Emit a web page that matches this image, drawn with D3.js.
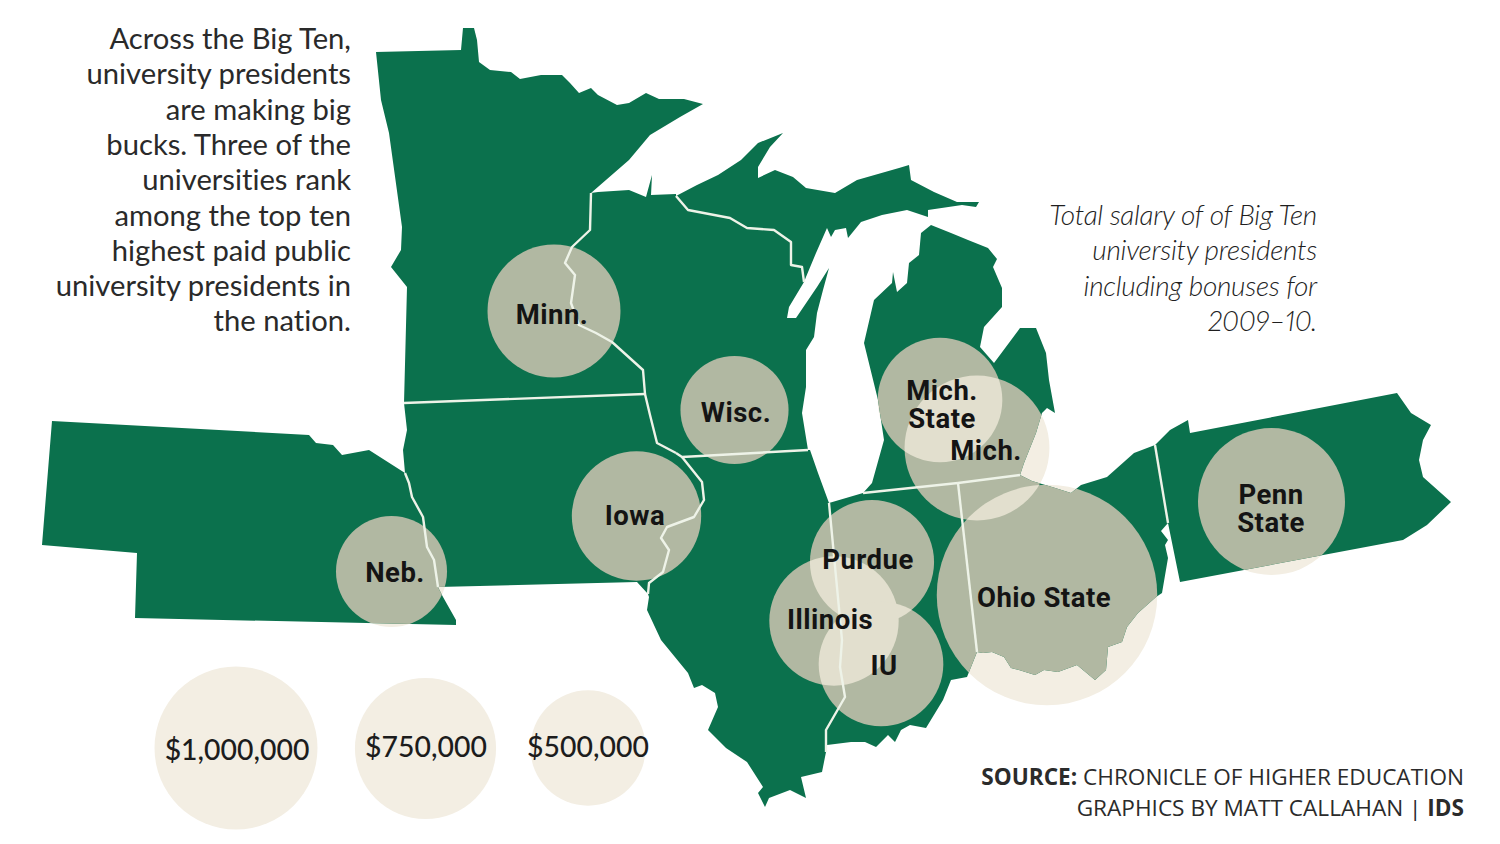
<!DOCTYPE html>
<html><head><meta charset="utf-8">
<script src="https://cdn.jsdelivr.net/npm/d3@7/dist/d3.min.js"></script>
<style>html,body{margin:0;padding:0;background:#fff}svg{display:block}text{font-variant-ligatures:none}</style>
</head><body><svg id="c" width="1500" height="844"></svg>
<script>
// ---------- data: state boundaries (map units) ----------
const mnWi=[[591,193],[590,230],[572,247],[565,263],[575,275],[571,303],[579,325],[596,333],[612,342],[643,370],[645,394]];
const mnIa=[[645,394],[404,403]];
const wiIa=[[645,394],[650,415],[657,443],[676,453]];
const wiIl=[[676,453],[682,457],[808,450]];
const wiUp=[[676,196],[688,210],[730,218],[747,228],[774,230],[791,242],[791,265],[802,267],[804,282]];
const iaIl=[[682,457],[690,467],[702,482],[704,500],[694,517],[667,527],[661,538],[669,550],[663,572],[649,583],[648,594]];
const neIa=[[405,473],[409,483],[412,497],[423,517],[427,547],[434,560],[438,587]];
const ilIn=[[829,503],[842,640],[840,667],[845,697],[826,730],[826,752]];
const inMi=[[863,493],[958,483]];
const miOh=[[958,483],[1020,475]];
const inOh=[[958,483],[977,652]];
const ohPa=[[1155,445],[1168,523]];

const minnesotaCoast=[[404,403],[407,287],[391,267],[401,250],[402,227],[389,133],[381,100],[376,52],[461,50],[463,28],[474,28],[477,40],[479,62],[490,70],[511,72],[520,79],[541,75],[562,75],[570,83],[579,93],[591,88],[598,95],[617,105],[629,103],[646,93],[659,99],[684,99],[703,104],[680,117],[650,135],[629,160]];
const wisconsinNorth=[[598,192],[629,190],[646,197],[652,175],[651,195],[676,194]];
const wisconsinEast=[[789,307],[787,318],[796,318],[817,287],[829,268],[823,290],[817,313],[814,337],[806,350],[806,387],[802,413],[808,450]];
const upperPeninsulaCoast=[[697,185],[718,175],[741,160],[758,143],[783,133],[770,147],[758,167],[758,178],[775,170],[793,177],[806,188],[835,193],[857,180],[899,168],[909,165],[911,180],[934,192],[957,202],[979,202],[976,207],[962,205],[928,210],[928,217],[907,210],[882,215],[861,222],[848,238],[846,228],[835,230],[831,237],[827,228],[816,253],[806,277]];
const lowerMichiganCoast=[[1020,475],[1024,463],[1036,433],[1042,413],[1047,408],[1055,413],[1049,380],[1046,353],[1036,328],[1020,328],[994,363],[980,347],[984,327],[1002,307],[1002,288],[993,267],[997,259],[988,248],[968,240],[951,233],[931,225],[921,233],[919,255],[909,263],[907,283],[897,292],[893,272],[892,283],[874,300],[864,343],[878,400],[884,440],[872,483]];
const nebraskaRest=[[443,597],[456,620],[456,625],[135,618],[137,553],[42,545],[52,421],[309,435],[316,443],[333,445],[342,455],[369,450]];
const iowaWest=[[637,582],[438,587]];
const iowaNorthwest=[[403,450],[407,430],[404,403]];
const illinoisSouth=[[822,772],[801,777],[806,798],[790,790],[769,798],[765,807],[758,793],[763,787],[747,762],[726,748],[708,730],[718,707],[715,693],[702,685],[694,688],[688,673],[661,640],[647,610],[649,597]];
const illinoisLake=[[810,450],[818,473],[829,503]];
const indianaSouth=[[967,677],[951,680],[943,700],[926,728],[910,725],[901,730],[895,742],[888,735],[876,747],[865,742],[851,742],[827,745]];
const ohioLake=[[1032,481],[1052,487],[1071,493],[1081,485],[1107,477],[1134,453]];
const ohioRiver=[[1168,523],[1161,531],[1168,540],[1165,545],[1168,558],[1162,593],[1156,597],[1138,613],[1127,627],[1122,642],[1108,647],[1106,670],[1095,680],[1077,665],[1058,672],[1044,670],[1035,675],[1019,670],[1011,668],[1004,657],[992,652],[983,653]];
const pennsylvaniaRest=[[1170,430],[1188,420],[1190,433],[1397,393],[1411,413],[1431,425],[1423,440],[1419,460],[1423,477],[1451,502],[1427,525],[1403,540],[1180,582]];

const r=a=>a.slice().reverse();
const stateNames=["Minnesota","Wisconsin","Upper Michigan","Lower Michigan","Iowa","Nebraska","Illinois","Indiana","Ohio","Pennsylvania"];
const stateRings=[
  [...mnWi,...mnIa,...minnesotaCoast],
  [...wisconsinNorth,...wiUp,...wisconsinEast,...r(wiIl),...r(wiIa),...r(mnWi)],
  [...wiUp.slice(0,1),...upperPeninsulaCoast,...r(wiUp)],
  [...r(miOh),...r(inMi),...r(lowerMichiganCoast)],
  [...r(mnIa),...wiIa,...iaIl,...iowaWest,...r(neIa),...iowaNorthwest.slice(0,2)],
  [...neIa,...nebraskaRest],
  [...wiIl.slice(1),...illinoisLake,...ilIn,...illinoisSouth,...r(iaIl)],
  [...ilIn,...r(indianaSouth),...r(inOh),...r(inMi)],
  [...miOh,...ohioLake,...ohPa,...ohioRiver,...r(inOh)],
  [...r(ohPa),...pennsylvaniaRest]
];
const borderLines=[mnWi,mnIa,wiIa,wiIl,wiUp,iaIl,neIa,ilIn,inMi,miOh,inOh,ohPa];

// ---------- data: salaries ----------
const universities=["Minn.","Wisc.","Iowa","Neb.","Mich. State","Mich.","Purdue","Illinois","IU","Ohio State","Penn State"];
const salaries=[666000,440000,630000,464000,585000,790000,580000,630000,585000,1830000,813000];
const campusX=[554,734.5,636.5,391.5,940,977,872,834,881,1047,1271.5];
const campusY=[311,410,516,571.5,400,448,562,621,664,595,501.5];
const labelLines=[["Minn."],["Wisc."],["Iowa"],["Neb."],["Mich.","State"],["Mich."],["Purdue"],["Illinois"],["IU"],["Ohio State"],["Penn","State"]];
const labelX=[552,736,635,395,942,986,868,830,884,1044,1271];
const labelY=[324,422,525,582,400,460,569,629,675,607,504];

const legendValues=[1000000,750000,500000];
const legendLabels=["$1,000,000","$750,000","$500,000"];
const legendX=[236,425.5,588];
const legendY=[748,748.5,748];
const legendTextX=[237,426,588];
const legendTextY=[760,757,757];

const introLines=["Across the Big Ten,","university presidents","are making big","bucks. Three of the","universities rank","among the top ten","highest paid public","university presidents in","the nation."];
const captionLines=["Total salary of of Big Ten","university presidents","including bonuses for","2009–10."];

// ---------- drawing ----------
const svg=d3.select("#c");
const geoPath=d3.geoPath(d3.geoIdentity());
const radius=d3.scaleSqrt().domain([0,1000000]).range([0,81.5]);
const lineGen=d3.line();
const ringPath=d=>geoPath({type:"Polygon",coordinates:[d.concat([d[0]])]});
const land="#0b714d", bubbleOnPaper="#f3eee3", bubbleOnLand="#b1b8a2", bubbleTwice="#e2dfce";

const defs=svg.append("defs");
defs.append("clipPath").attr("id","land").selectAll("path").data(stateRings).join("path").attr("d",ringPath);
salaries.forEach((v,i)=>{
  defs.append("clipPath").attr("id","bubble"+i).append("circle")
    .attr("cx",campusX[i]).attr("cy",campusY[i]).attr("r",radius(v));
});

// bubbles as they look on the white paper
svg.append("g").selectAll("circle").data(salaries).join("circle")
  .attr("cx",(d,i)=>campusX[i]).attr("cy",(d,i)=>campusY[i]).attr("r",d=>radius(d)).attr("fill",bubbleOnPaper);

// land
svg.append("g").selectAll("path").data(stateRings).join("path")
  .attr("d",ringPath).attr("fill",land)
  .append("title").text((d,i)=>stateNames[i]);

// bubbles as they look on the land, with their overlaps lighter
const onLand=svg.append("g").attr("clip-path","url(#land)");
onLand.selectAll("circle").data(salaries).join("circle")
  .attr("cx",(d,i)=>campusX[i]).attr("cy",(d,i)=>campusY[i]).attr("r",d=>radius(d)).attr("fill",bubbleOnLand);
salaries.forEach((v,i)=>{
  salaries.forEach((w,j)=>{
    if(j<=i) return;
    const dist=Math.hypot(campusX[i]-campusX[j],campusY[i]-campusY[j]);
    if(dist>=radius(v)+radius(w)) return;
    onLand.append("g").attr("clip-path","url(#bubble"+i+")").append("circle")
      .attr("cx",campusX[j]).attr("cy",campusY[j]).attr("r",radius(w)).attr("fill",bubbleTwice);
  });
});

// state borders
svg.append("g").selectAll("path").data(borderLines).join("path")
  .attr("d",d=>lineGen(d)).attr("fill","none")
  .attr("stroke","#eef3e8").attr("stroke-width",2.4).attr("stroke-linejoin","round");

// legend
svg.append("g").selectAll("circle").data(legendValues).join("circle")
  .attr("cx",(d,i)=>legendX[i]).attr("cy",(d,i)=>legendY[i]).attr("r",d=>radius(d)).attr("fill",bubbleOnPaper);
svg.append("g").selectAll("text").data(legendLabels).join("text")
  .attr("x",(d,i)=>legendTextX[i]).attr("y",(d,i)=>legendTextY[i])
  .attr("text-anchor","middle").attr("font-family","Lato").attr("font-size",28.4).attr("font-weight",500)
  .attr("fill","#1c1c1c").text(d=>d);

// university labels
const lab=svg.append("g").attr("font-family","Roboto").attr("font-weight",700).attr("font-size",27.5)
  .attr("letter-spacing",0.5).attr("fill","#141414").attr("text-anchor","middle");
universities.forEach((u,i)=>{
  const t=lab.append("text");
  labelLines[i].forEach((line,j)=>{
    t.append("tspan").attr("x",labelX[i]).attr("y",labelY[i]+j*28).text(line);
  });
});

svg.append("g").selectAll("text").data(introLines).join("text")
  .attr("x",351).attr("y",(d,i)=>49+i*35.3).attr("text-anchor","end")
  .attr("font-family","Lato").attr("font-size",29.2).attr("font-weight",400).attr("fill","#2a2a2a").text(d=>d);

svg.append("g").selectAll("text").data(captionLines).join("text")
  .attr("x",1317).attr("y",(d,i)=>225+i*35.3).attr("text-anchor","end")
  .attr("font-family","Lato").attr("font-style","italic").attr("font-size",28).attr("font-weight",300)
  .attr("letter-spacing",-0.3).style("font-variant-numeric","proportional-nums").attr("fill","#1f1f1f").text(d=>d);

const src=svg.append("g").attr("font-family","Open Sans").attr("font-size",22.6).attr("fill","#2b2b2b").attr("text-anchor","end");
const s1=src.append("text").attr("x",1464).attr("y",785);
s1.append("tspan").attr("font-weight",700).text("SOURCE: ");
s1.append("tspan").text("CHRONICLE OF HIGHER EDUCATION");
const s2=src.append("text").attr("x",1464).attr("y",816);
s2.append("tspan").text("GRAPHICS BY MATT CALLAHAN | ");
s2.append("tspan").attr("font-weight",700).text("IDS");
</script></body></html>
